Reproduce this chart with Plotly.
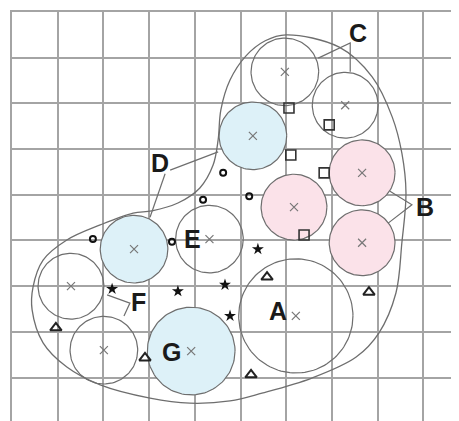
import numpy as np
import plotly.graph_objects as go

# ---- data (grid-cell units, y measured downward) ----
circle_x = [5.97, 7.29, 5.27, 7.66, 6.17, 7.66, 6.21, 4.32, 2.67, 1.29, 2.01, 3.92]
circle_y = [1.31, 2.04, 2.71, 3.52, 4.27, 5.05, 6.65, 4.97, 5.19, 6.00, 7.40, 7.42]
circle_r = [0.74, 0.72, 0.74, 0.72, 0.72, 0.72, 1.25, 0.74, 0.74, 0.72, 0.74, 0.96]
circle_kind = ["w", "w", "b", "p", "p", "p", "w", "w", "b", "w", "w", "b"]

blob_x = [6.00, 7.16, 7.88, 8.32, 8.53, 8.62, 8.53, 8.40, 8.03, 7.53, 6.56, 5.47, 4.77,
          3.89, 3.02, 1.93, 1.20, 0.68, 0.44, 0.46, 0.68, 1.20, 1.93, 2.65, 3.06, 3.63,
          4.11, 4.40, 4.51, 4.57, 4.77, 5.12, 5.54]
blob_y = [0.50, 0.77, 1.42, 2.30, 3.09, 3.96, 5.05, 6.15, 7.02, 7.55, 8.01, 8.34, 8.51,
          8.56, 8.45, 8.16, 7.77, 7.24, 6.52, 6.02, 5.43, 4.99, 4.66, 4.40, 4.35, 4.18,
          3.85, 3.35, 2.80, 2.14, 1.49, 0.96, 0.63]

star_x = [2.19, 3.63, 4.66, 5.38, 4.77]
star_y = [6.06, 6.11, 5.97, 5.19, 6.65]
tri_x = [0.96, 2.91, 5.58, 7.81, 5.23]
tri_y = [6.91, 7.57, 5.80, 6.13, 7.94]
dot_x = [4.62, 4.18, 5.19, 1.77, 3.50]
dot_y = [3.52, 4.11, 4.03, 4.97, 5.03]
sq_x = [6.06, 6.94, 6.10, 6.83, 6.39]
sq_y = [2.10, 2.47, 3.13, 3.52, 4.88]

leader_lines = {
    "C": ([6.70, 7.40, 7.40], [1.01, 0.68, 1.31]),
    "D1": ([3.46, 4.51], [3.46, 3.06]),
    "D2": ([3.35, 3.02], [3.54, 4.49]),
    "B": ([8.27, 8.75, 8.23], [3.92, 4.22, 4.62]),
    "F": ([2.08, 2.58, 2.45], [6.19, 6.37, 6.65]),
}

label_text = ["A", "B", "C", "D", "E", "F", "G"]
label_x = [5.82, 9.04, 7.57, 3.24, 3.96, 2.76, 3.50]
label_y = [6.54, 4.27, 0.46, 3.30, 4.97, 6.35, 7.44]

fills = {"w": "rgba(255,255,255,0)", "b": "#ddf1f8", "p": "#fbe2e9"}
STROKE = "#6e6e6e"

fig = go.Figure()

# circles
t = np.linspace(0, 2 * np.pi, 121)
for cx, cy, r, k in zip(circle_x, circle_y, circle_r, circle_kind):
    fig.add_trace(go.Scatter(
        x=cx + r * np.cos(t), y=cy + r * np.sin(t), mode="lines",
        fill="toself", fillcolor=fills[k],
        line=dict(color=STROKE, width=1.2), hoverinfo="skip", showlegend=False))

# outer blob
fig.add_trace(go.Scatter(
    x=blob_x + blob_x[:1], y=blob_y + blob_y[:1], mode="lines",
    line=dict(color=STROKE, width=1.3, shape="spline", smoothing=1.0),
    hoverinfo="skip", showlegend=False))

# leader lines
for lx, ly in leader_lines.values():
    fig.add_trace(go.Scatter(x=lx, y=ly, mode="lines",
                             line=dict(color=STROKE, width=1.2),
                             hoverinfo="skip", showlegend=False))

# centre crosses
fig.add_trace(go.Scatter(x=circle_x, y=circle_y, mode="markers",
                         marker=dict(symbol="x-thin", size=8, color="#777777",
                                     line=dict(color="#777777", width=1.2)),
                         hoverinfo="skip", showlegend=False))

# symbols
fig.add_trace(go.Scatter(x=star_x, y=star_y, mode="markers",
                         marker=dict(symbol="star", size=9, color="#111111"),
                         hoverinfo="skip", showlegend=False))
fig.add_trace(go.Scatter(x=tri_x, y=tri_y, mode="markers",
                         marker=dict(symbol="triangle-up-open", size=10, color="#222222",
                                     line=dict(color="#222222", width=2)),
                         hoverinfo="skip", showlegend=False))
fig.add_trace(go.Scatter(x=dot_x, y=dot_y, mode="markers",
                         marker=dict(symbol="circle-open", size=6, color="#111111",
                                     line=dict(color="#111111", width=2)),
                         hoverinfo="skip", showlegend=False))
fig.add_trace(go.Scatter(x=sq_x, y=sq_y, mode="markers",
                         marker=dict(symbol="square-open", size=10, color="#333333",
                                     line=dict(color="#333333", width=1.6)),
                         hoverinfo="skip", showlegend=False))

for txt, lx, ly in zip(label_text, label_x, label_y):
    fig.add_annotation(x=lx, y=ly, xref="x", yref="y", text=f"<b>{txt}</b>",
                       showarrow=False,
                       font=dict(family="Liberation Sans, Arial", size=25, color="#1a1a1a"))

GRID = "#a4a4a4"
fig.update_xaxes(range=[0, 9.78], dtick=1, tick0=0, showgrid=True, gridcolor=GRID,
                 gridwidth=2, zeroline=False, showticklabels=False, ticks="",
                 showline=True, linecolor=GRID, linewidth=2, side="top")
fig.update_yaxes(range=[8.95, 0], dtick=1, tick0=0, showgrid=True, gridcolor=GRID,
                 gridwidth=2, zeroline=False, showticklabels=False, ticks="",
                 showline=True, linecolor=GRID, linewidth=2)

# page body adds an 8px offset; margins compensate so the grid starts at 12px
fig.update_layout(width=459, height=421, margin=dict(l=4, r=8, t=4, b=8),
                  paper_bgcolor="white", plot_bgcolor="white", showlegend=False)

fig.write_html("out.html", config={"displayModeBar": False})
